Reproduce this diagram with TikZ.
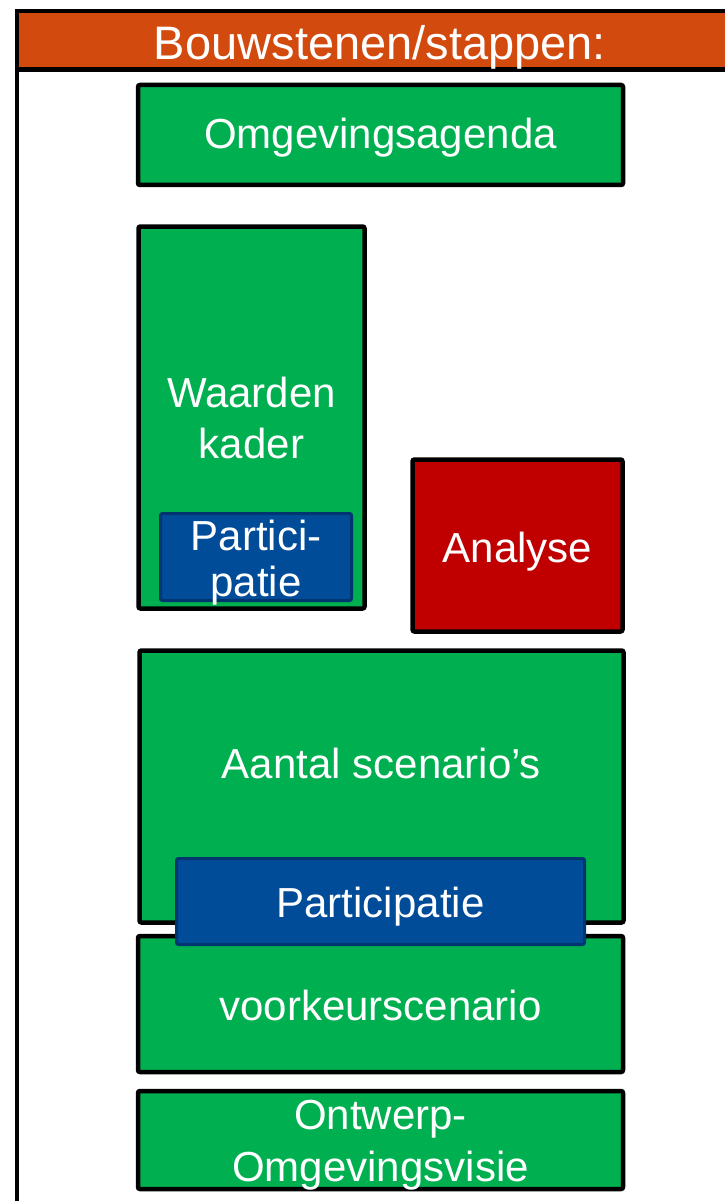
\documentclass[tikz,border=0pt]{standalone}
\usepackage{fontspec}
\setmainfont{Liberation Sans}
\definecolor{mgreen}{HTML}{00B050}
\definecolor{mred}{HTML}{C00000}
\definecolor{mblue}{HTML}{004C99}
\definecolor{mblueline}{HTML}{00356F}
\definecolor{morange}{HTML}{D24A0E}
\tikzset{
  gbox/.style={draw=black, line width=4.5pt, rounded corners=2pt, fill=mgreen, inner sep=0pt},
  rbox/.style={gbox, fill=mred},
  pbox/.style={draw=mblueline, line width=3pt, rounded corners=2pt, fill=mblue, inner sep=0pt},
  lbl/.style={text=white, inner sep=0pt, align=center, anchor=base, font=\fontsize{42}{48}\selectfont}
}
\begin{document}
\begin{tikzpicture}[x=1pt,y=-1pt]
\useasboundingbox (0,0) rectangle (724,1201);
% frame and header
\fill[morange] (17,11) rectangle (730,70);
\draw[line width=4.5pt] (17,1210) -- (17,11) -- (730,11);
\draw[line width=5pt] (15,70) -- (730,70);
\node[lbl, font=\fontsize{47}{52}\selectfont] (head) at (380,60) {Bouwstenen/stappen:};
% boxes
\node[gbox, minimum width=485pt, minimum height=100pt] (agenda) at (380.5,135) {};
\node[lbl] (agendatxt) at (380.5,149) {Omgevingsagenda};
\node[gbox, minimum width=226pt, minimum height=382pt] (waarden) at (251.5,417.5) {};
\node[lbl, font=\fontsize{42}{51}\selectfont] (waardentxt) at (251.5,458) {Waarden\\kader};
\node[pbox, minimum width=191pt, minimum height=87pt] (part1) at (256,557) {};
\node[lbl, font=\fontsize{42}{46}\selectfont] (part1txt) at (256,596) {Partici-\\patie};
\node[rbox, minimum width=210pt, minimum height=172pt] (analyse) at (517.5,545.5) {};
\node[lbl] (analysetxt) at (517.5,562) {Analyse};
\node[gbox, minimum width=484pt, minimum height=272pt] (aantal) at (381.5,786.5) {};
\node[lbl] (aantaltxt) at (381.5,778) {Aantal scenario’s};
\node[gbox, minimum width=485pt, minimum height=136pt] (voorkeur) at (380.5,1004) {};
\node[lbl] (voorkeurtxt) at (380.5,1020) {voorkeurscenario};
\node[pbox, minimum width=408pt, minimum height=86pt] (part2) at (380.5,901.5) {};
\node[lbl] (part2txt) at (380.5,917) {Participatie};
\node[gbox, minimum width=485pt, minimum height=98pt] (ontwerp) at (380.5,1140) {};
\node[lbl, font=\fontsize{42}{52}\selectfont] (ontwerptxt) at (380.5,1181) {Ontwerp-\\Omgevingsvisie};
\end{tikzpicture}
\end{document}
